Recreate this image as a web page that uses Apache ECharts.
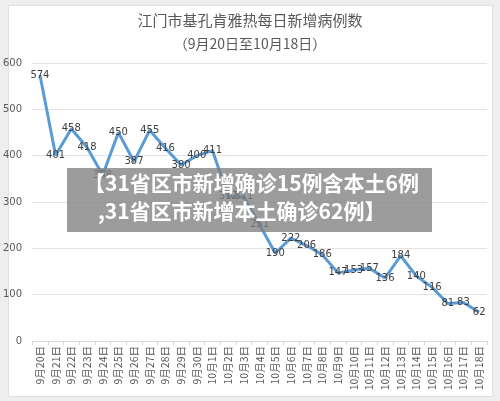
<!DOCTYPE html>
<html>
<head>
<meta charset="utf-8">
<script src="https://cdn.jsdelivr.net/npm/echarts@6/dist/echarts.min.js"></script>
<style>
  html, body { margin: 0; padding: 0; background: #eeeeee; }
  #chart { width: 500px; height: 401px; }
</style>
</head>
<body>
<div id="chart"></div>
<script>
const days = [
  '9月20日', '9月21日', '9月22日', '9月23日', '9月24日', '9月25日', '9月26日',
  '9月27日', '9月28日', '9月29日', '9月30日', '10月1日', '10月2日', '10月3日',
  '10月4日', '10月5日', '10月6日', '10月7日', '10月8日', '10月9日', '10月10日',
  '10月11日', '10月12日', '10月13日', '10月14日', '10月15日', '10月16日',
  '10月17日', '10月18日'
]
const newCases = [
  574, 401, 458, 418, 358, 450, 387, 455, 416, 380, 400, 411, 312, 311,
  251, 190, 222, 206, 186, 147, 153, 157, 136, 184, 140, 116, 81, 83, 62
]
const yTicks = [0, 100, 200, 300, 400, 500, 600]
const titleText = '江门市基孔肯雅热每日新增病例数'
const subText = '（9月20日至10月18日）'
const bannerLines = ['【31省区市新增确诊15例含本土6例', ',31省区市新增本土确诊62例】']

const chart = echarts.init(document.getElementById('chart'))

const option = {
  backgroundColor: '#eeeeee',
  animation: false,
  textStyle: { fontFamily: 'Noto Sans CJK SC, sans-serif' },
  title: [
    {
      text: titleText,
      left: 'center',
      top: 8,
      textStyle: { color: '#595959', fontSize: 15, fontWeight: 'normal', fontFamily: 'Noto Sans CJK SC' }
    },
    {
      text: subText,
      left: 'center',
      top: 32,
      textStyle: { color: '#595959', fontSize: 14, fontWeight: 'normal', fontFamily: 'Noto Sans CJK SC' }
    }
  ],
  grid: { left: 32, right: 13, top: 63, bottom: 60, containLabel: false },
  xAxis: {
    type: 'category',
    data: days,
    boundaryGap: true,
    axisLine: { lineStyle: { color: '#d9d9d9' } },
    axisTick: { show: true, alignWithLabel: false, length: 4, lineStyle: { color: '#d9d9d9' } },
    axisLabel: {
      interval: 0,
      rotate: 90,
      color: '#595959',
      fontSize: 10.5,
      margin: 5,
      fontFamily: 'Noto Sans CJK SC'
    }
  },
  yAxis: {
    type: 'value',
    min: yTicks[0],
    max: yTicks[yTicks.length - 1],
    interval: 100,
    axisLine: { show: false },
    axisTick: { show: false },
    splitLine: { lineStyle: { color: '#e3e3e3' } },
    axisLabel: { color: '#595959', fontSize: 10, margin: 10, fontFamily: 'DejaVu Sans' }
  },
  series: [
    {
      type: 'line',
      data: newCases,
      symbol: 'circle',
      symbolSize: 0,
      showSymbol: true,
      lineStyle: { color: '#5b9bd5', width: 3 },
      itemStyle: { color: '#5b9bd5' },
      label: {
        show: true,
        position: 'inside',
        color: '#404040',
        fontSize: 10,
        fontFamily: 'DejaVu Sans'
      },
      z: 2
    }
  ],
  graphic: [
    {
      type: 'rect',
      left: 8,
      top: 5,
      z: -10,
      shape: { width: 484, height: 391 },
      style: { fill: '#ffffff', stroke: '#e0e0e0' }
    },
    {
      type: 'rect',
      left: 67,
      top: 168,
      z: 100,
      shape: { width: 365, height: 64 },
      style: { fill: 'rgba(128,128,128,0.78)' }
    },
    {
      type: 'text',
      left: 84,
      top: 173,
      z: 101,
      style: {
        text: bannerLines[0],
        fill: '#ffffff',
        font: 'bold 21px "Noto Sans CJK SC"'
      }
    },
    {
      type: 'text',
      left: 98,
      top: 201,
      z: 101,
      style: {
        text: bannerLines[1],
        fill: '#ffffff',
        font: 'bold 21px "Noto Sans CJK SC"'
      }
    }
  ]
}

chart.setOption(option)
</script>
</body>
</html>
